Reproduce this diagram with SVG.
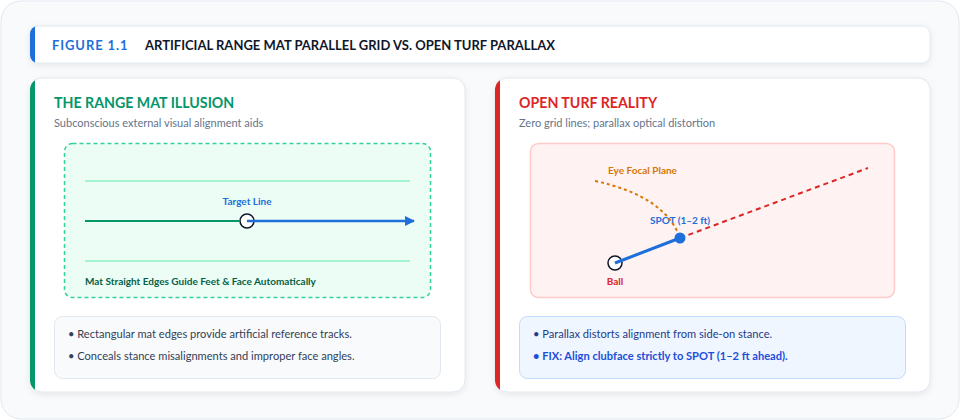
<svg xmlns="http://www.w3.org/2000/svg" width="960" height="420" viewBox="0 0 960 420">
<defs>
<filter id="sh" x="-10%" y="-10%" width="120%" height="130%">
<feDropShadow dx="0" dy="2" stdDeviation="3" flood-color="#0f172a" flood-opacity="0.08"/>
</filter>
<marker id="arr" viewBox="0 0 10 10" refX="9" refY="5" markerWidth="12" markerHeight="10" markerUnits="userSpaceOnUse" orient="auto">
<path d="M0,0 L10,5 L0,10 z" fill="#1e6fd9"/>
</marker>
<clipPath id="cl"><rect x="30" y="78" width="435" height="314" rx="12"/></clipPath>
<clipPath id="cr"><rect x="495" y="78" width="435" height="314" rx="12"/></clipPath>
<clipPath id="ch"><rect x="30" y="26" width="900" height="37" rx="8"/></clipPath>
</defs>
<style>
text{font-family:Lato,"Noto Sans","Liberation Sans",sans-serif}
.card{fill:#ffffff;stroke:#e2e8f0;stroke-width:1}
.ttl{font-size:14.2px;font-weight:700}
.sub{font-size:11px;fill:#64748b}
.lbl{font-size:10px;font-weight:700}
.bul{font-size:11.1px}
</style>
<rect x="1" y="1" width="958" height="418" rx="20" fill="#f8fafc" stroke="#e2e8f0"/>
<g id="header">
<rect x="30" y="26" width="900" height="37" rx="8" class="card" filter="url(#sh)"/>
<rect x="30" y="26" width="5" height="37" fill="#1e6fd9" clip-path="url(#ch)"/>
<text x="52" y="50" font-size="13" font-weight="700" fill="#1e6fd9" letter-spacing="0.9">FIGURE 1.1</text>
<text x="145" y="50" font-size="13" font-weight="700" fill="#0f172a">ARTIFICIAL RANGE MAT PARALLEL GRID VS. OPEN TURF PARALLAX</text>
</g>
<g id="left-card">
<rect x="30" y="78" width="435" height="314" rx="12" class="card" filter="url(#sh)"/>
<rect x="30" y="78" width="5" height="314" fill="#059669" clip-path="url(#cl)"/>
<text x="54" y="108" class="ttl" fill="#059669">THE RANGE MAT ILLUSION</text>
<text x="54" y="127" class="sub">Subconscious external visual alignment aids</text>
</g>
<g id="mat">
<rect x="64.5" y="143.5" width="366" height="154" rx="8" fill="#ecfdf5" stroke="#34d399" stroke-width="1.5" stroke-dasharray="4 3"/>
<line x1="85" y1="181" x2="410" y2="181" stroke="#a7f3d0" stroke-width="2"/>
<line x1="85" y1="261" x2="410" y2="261" stroke="#a7f3d0" stroke-width="2"/>
<text x="85" y="285" class="lbl" fill="#065f46">Mat Straight Edges Guide Feet &amp; Face Automatically</text>
</g>
<g id="target-line">
<text x="247" y="205" class="lbl" fill="#1e6fd9" text-anchor="middle">Target Line</text>
</g>
<g id="left-ball">
<circle cx="247" cy="221" r="7" fill="#ffffff" stroke="#0f172a" stroke-width="1.5"/>
</g>
<g id="left-notes">
<rect x="54.5" y="316.5" width="386" height="62" rx="8" fill="#f8fafc" stroke="#e2e8f0"/>
<text x="68" y="338" class="bul" fill="#334155">• Rectangular mat edges provide artificial reference tracks.</text>
<text x="68" y="360" class="bul" fill="#334155">• Conceals stance misalignments and improper face angles.</text>
</g>
<g id="right-card">
<rect x="495" y="78" width="435" height="314" rx="12" class="card" filter="url(#sh)"/>
<rect x="495" y="78" width="5" height="314" fill="#dc2626" clip-path="url(#cr)"/>
<text x="519" y="108" class="ttl" fill="#dc2626">OPEN TURF REALITY</text>
<text x="519" y="127" class="sub">Zero grid lines; parallax optical distortion</text>
</g>
<g id="turf">
<rect x="530.5" y="143.5" width="364" height="154" rx="8" fill="#fef2f2" stroke="#fecaca" stroke-width="1.5"/>
<text x="608" y="174" class="lbl" fill="#d97706">Eye Focal Plane</text>
</g>
<g id="spot">
<text x="650" y="224" class="lbl" fill="#1e6fd9">SPOT (1–2 ft)</text>
</g>
<g id="ball">
<circle cx="615" cy="263" r="7" fill="#ffffff" stroke="#0f172a" stroke-width="1.5"/>
<text x="615" y="285" class="lbl" fill="#dc2626" text-anchor="middle">Ball</text>
</g>
<g id="connectors">
<line x1="85" y1="221" x2="240" y2="221" stroke="#059669" stroke-width="2"/>
<line x1="247" y1="221" x2="414" y2="221" stroke="#1e6fd9" stroke-width="2.5" marker-end="url(#arr)"/>
<path d="M595,181 Q665,196 680,238" fill="none" stroke="#d97706" stroke-width="2" stroke-dasharray="3 3"/>
<line x1="680" y1="238" x2="868" y2="168" stroke="#dc2626" stroke-width="2" stroke-dasharray="5 4"/>
<line x1="615" y1="263" x2="680" y2="238" stroke="#1e6fd9" stroke-width="3"/>
<circle cx="680" cy="238" r="5.5" fill="#1e6fd9"/>
</g>
<g id="right-notes">
<rect x="519.5" y="316.5" width="386" height="62" rx="8" fill="#eff6ff" stroke="#bfdbfe"/>
<text x="533" y="338" class="bul" fill="#1e3a8a">• Parallax distorts alignment from side-on stance.</text>
<text x="533" y="360" class="bul" font-weight="700" fill="#1d4ed8">• FIX: Align clubface strictly to SPOT (1–2 ft ahead).</text>
</g>
</svg>
